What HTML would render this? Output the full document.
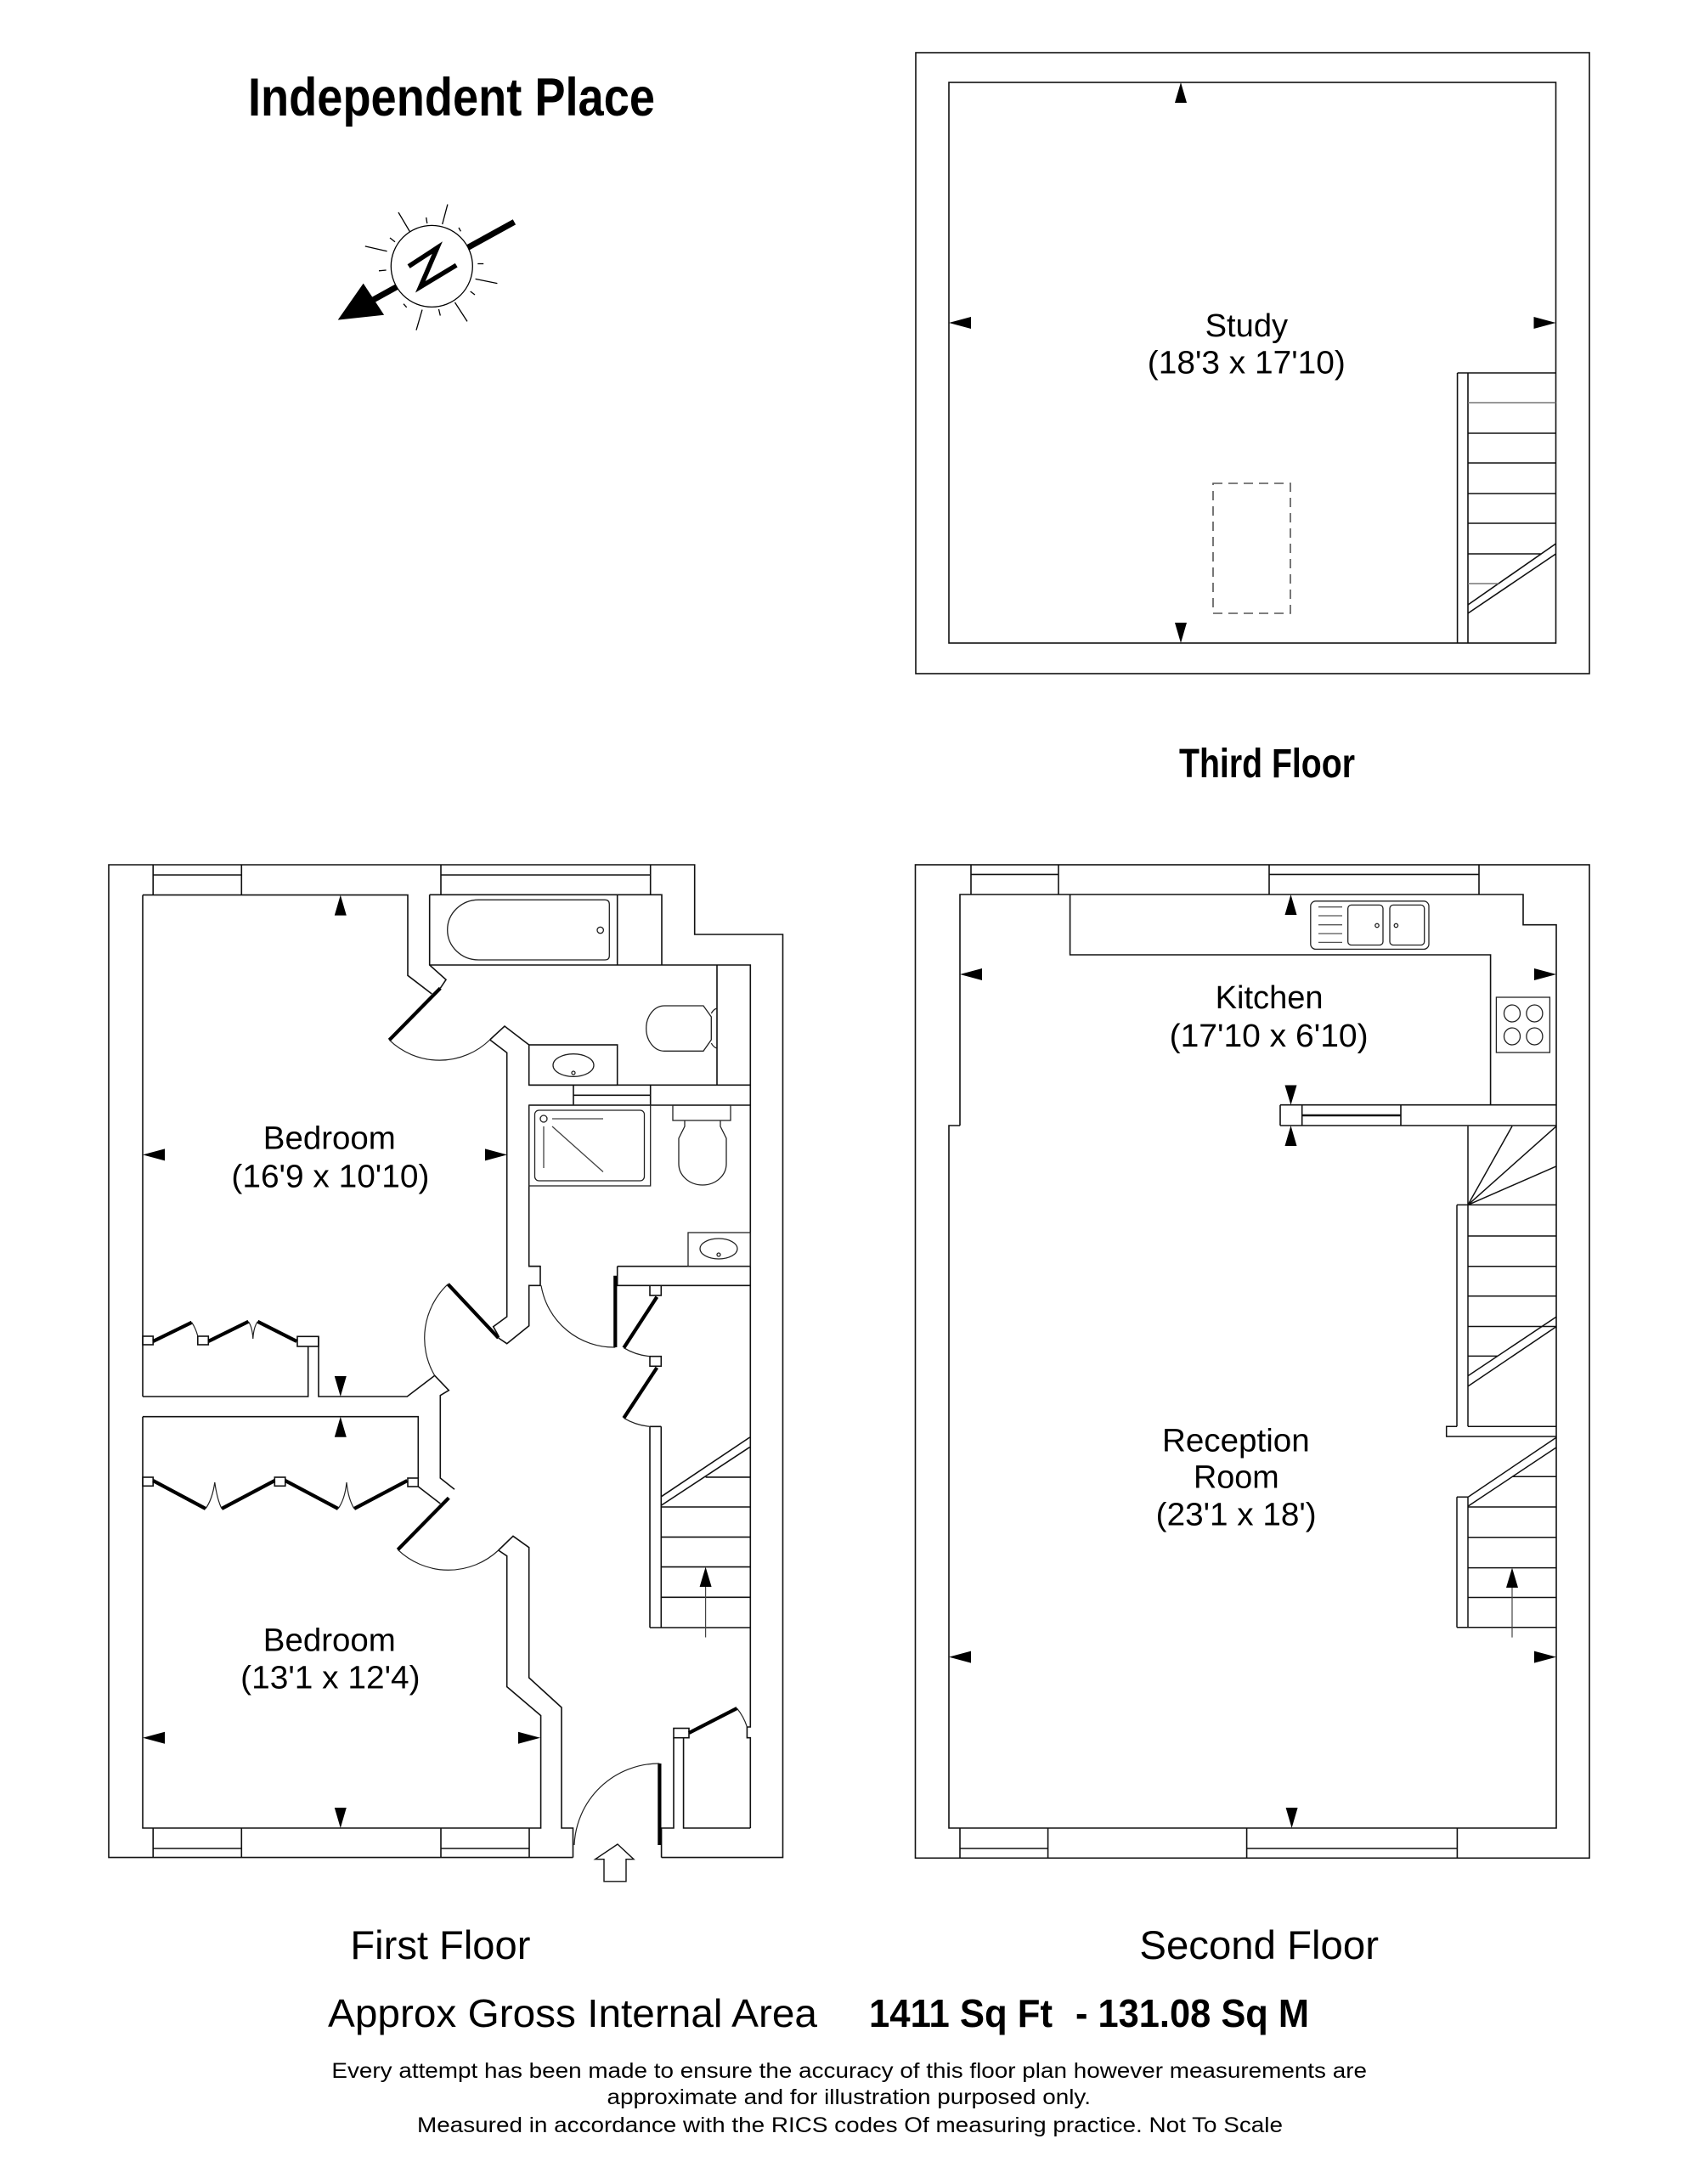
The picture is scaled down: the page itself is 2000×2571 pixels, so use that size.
<!DOCTYPE html>
<html>
<head>
<meta charset="utf-8">
<style>
  html,body{margin:0;padding:0;background:#fff;}
  svg{display:block;}
  text{font-family:"Liberation Sans", Arial, sans-serif; fill:#000;}
</style>
</head>
<body>
<svg width="2000" height="2571" viewBox="0 0 2000 2571" xmlns="http://www.w3.org/2000/svg">
<rect x="0" y="0" width="2000" height="2571" fill="#fff"/>

<!-- ============ TITLE ============ -->
<text x="292" y="136" font-size="63" font-weight="bold" textLength="479" lengthAdjust="spacingAndGlyphs">Independent Place</text>

<!-- ============ COMPASS ============ -->
<g transform="translate(0,-6)">
<g stroke="#000" fill="none">
  <line x1="605.4" y1="267.3" x2="432" y2="363" stroke-width="7"/>
  <g stroke-width="1.3">
    <line x1="469" y1="256" x2="483.8" y2="281"/>
    <line x1="526.9" y1="246.6" x2="520.7" y2="270"/>
    <line x1="429.8" y1="295.9" x2="455.6" y2="301.7"/>
    <line x1="559.6" y1="334.4" x2="585.4" y2="339.6"/>
    <line x1="535.5" y1="362" x2="550" y2="384.4"/>
    <line x1="497" y1="370.6" x2="490" y2="394.7"/>
    <line x1="501.7" y1="262" x2="502.8" y2="269"/>
    <line x1="540" y1="274" x2="542.4" y2="278.3"/>
    <line x1="459" y1="286" x2="465" y2="290.7"/>
    <line x1="446" y1="324.8" x2="454.6" y2="324"/>
    <line x1="562.3" y1="316.5" x2="569.2" y2="316.5"/>
    <line x1="553.7" y1="349" x2="559" y2="353"/>
    <line x1="516.5" y1="370" x2="518.3" y2="377.5"/>
    <line x1="475" y1="363.7" x2="478.7" y2="367.8"/>
  </g>
  <circle cx="508.3" cy="319.4" r="48" fill="#fff" stroke-width="1.3"/>
  <path d="M481.1 319.6 L514.8 297.6 L494.9 343.7 L537.2 318.2" stroke-width="5.5" stroke-linejoin="miter"/>
</g>
<polygon points="397.7,382.6 427.7,339.6 452.1,376.8" fill="#000"/>
</g>

<!-- ============ THIRD FLOOR ============ -->
<g fill="none" stroke="#111" stroke-width="1.6">
  <rect x="1078" y="62" width="793" height="731"/>
  <rect x="1117" y="97" width="714.5" height="660"/>
  <path d="M1715.6 439 V757 M1728 439 V757 M1715.6 439 H1831.5"/>
  <path d="M1728 510 H1831.5 M1728 545 H1831.5 M1728 581 H1831.5 M1728 616 H1831.5 M1728 652 H1814 M1728 712 L1831.5 640 M1728 722 L1831.5 652"/>
  <path stroke="#777" d="M1728 474 H1831.5 M1728 687 H1764"/>
  <rect x="1428" y="569" width="91" height="153" stroke="#555" stroke-dasharray="11 7"/>
</g>
<g fill="#000">
  <polygon points="1390,97 1383,121 1397,121"/>
  <polygon points="1390,757 1383,733 1397,733"/>
  <polygon points="1117,380 1143,373 1143,387"/>
  <polygon points="1831.5,380 1805.5,373 1805.5,387"/>
</g>
<text x="1418.6" y="396" font-size="38" textLength="97.5" lengthAdjust="spacingAndGlyphs">Study</text>
<text x="1350.8" y="439.5" font-size="38" textLength="233" lengthAdjust="spacingAndGlyphs">(18'3 x 17'10)</text>

<text x="1388" y="915" font-size="48" font-weight="bold" textLength="207" lengthAdjust="spacingAndGlyphs">Third Floor</text>

<!-- ============ SECOND FLOOR ============ -->
<g fill="none" stroke="#111" stroke-width="1.6">
  <rect x="1077.5" y="1018" width="793.5" height="1169.3"/>
  <path d="M1130 1325 V1053 H1793 V1088.7 H1832 V2152 H1117 V1325 H1130"/>
  <path d="M1143 1018 V1053 M1246 1018 V1053 M1143 1029.4 H1246 M1494 1018 V1053 M1741 1018 V1053 M1494 1029.4 H1741"/>
  <path d="M1130 2152 V2187 M1233.6 2152 V2187 M1130 2176 H1233.6 M1467.6 2152 V2187 M1715.4 2152 V2187 M1467.6 2176 H1715.4"/>
  <path d="M1259.6 1053 V1124 H1754.6 V1300.7"/>
  <path d="M1507 1300.7 H1832 M1507 1325 H1832 M1507 1300.7 V1325 M1532.7 1300.7 V1325 M1649 1300.7 V1325"/>
  <path d="M1532.7 1313 H1649" stroke-width="2.6"/>
</g>
<g fill="none" stroke="#222" stroke-width="1.3">
  <rect x="1542.8" y="1060.8" width="139.2" height="56.6" rx="6"/>
  <path d="M1552 1067.7 H1580 M1552 1078 H1580 M1552 1088.7 H1580 M1552 1099 H1580 M1552 1109.4 H1580" stroke="#555"/>
  <rect x="1586.7" y="1065.4" width="41.3" height="47.1" rx="4"/>
  <rect x="1636" y="1065.4" width="40.7" height="47.1" rx="4"/>
  <circle cx="1621" cy="1089.5" r="2.2"/>
  <circle cx="1643.4" cy="1089.5" r="2.2"/>
  <rect x="1761.4" y="1174" width="63" height="65"/>
  <ellipse cx="1780" cy="1193" rx="9.5" ry="10"/>
  <ellipse cx="1806.4" cy="1193" rx="9.5" ry="10"/>
  <ellipse cx="1780" cy="1220" rx="9.5" ry="10"/>
  <ellipse cx="1806.4" cy="1220" rx="9.5" ry="10"/>
</g>
<g fill="none" stroke="#111" stroke-width="1.5">
  <path d="M1728 1325.8 V1679.3 M1715 1418.4 V1679.3 M1715 1418.4 H1832"/>
  <path d="M1728 1418.4 L1780 1325.8 M1728 1418.4 L1832 1325.8 M1728 1418.4 L1832 1372.9"/>
  <path d="M1728 1455 H1832 M1728 1490.8 H1832 M1728 1525.7 H1832 M1728 1561.5 H1832 M1728 1596.4 H1763"/>
  <path d="M1728.3 1619.5 L1832.3 1550 M1728.3 1631.8 L1832.3 1561.5"/>
  <path d="M1728 1679.3 H1832 M1715 1679.3 H1702.7 V1691 H1832"/>
  <path d="M1728.3 1762.2 L1832.3 1692 M1728.3 1773 L1832.3 1703.7"/>
  <path d="M1780 1738.2 H1832 M1728 1774 H1832 M1728 1809.8 H1832 M1728 1845.6 H1832 M1728 1880.5 H1832 M1715 1915.8 H1832"/>
  <path d="M1715 1762.2 V1915.8 M1728 1762.2 V1915.8 M1715 1762.2 H1728"/>
  <path d="M1780 1927.6 V1866" stroke="#444" stroke-width="1.2"/>
</g>
<g fill="#000">
  <polygon points="1780,1845.6 1773,1869 1787,1869"/>
  <polygon points="1519.5,1053 1512.5,1077 1526.5,1077"/>
  <polygon points="1130,1147 1156,1140 1156,1154"/>
  <polygon points="1832,1147 1806,1140 1806,1154"/>
  <polygon points="1519.5,1300.7 1512.5,1277.5 1526.5,1277.5"/>
  <polygon points="1519.5,1325 1512.5,1349 1526.5,1349"/>
  <polygon points="1117,1950.6 1143,1943.6 1143,1957.6"/>
  <polygon points="1832,1950.6 1806,1943.6 1806,1957.6"/>
  <polygon points="1520.6,2152 1513.6,2128 1527.6,2128"/>
</g>
<text x="1430.6" y="1187" font-size="38" textLength="127" lengthAdjust="spacingAndGlyphs">Kitchen</text>
<text x="1376.6" y="1232" font-size="38" textLength="234" lengthAdjust="spacingAndGlyphs">(17'10 x 6'10)</text>
<text x="1368" y="1708.6" font-size="38" textLength="173.7" lengthAdjust="spacingAndGlyphs">Reception</text>
<text x="1405" y="1751.4" font-size="38" textLength="100.7" lengthAdjust="spacingAndGlyphs">Room</text>
<text x="1360.7" y="1795.5" font-size="38" textLength="189" lengthAdjust="spacingAndGlyphs">(23'1 x 18')</text>

<!-- ============ FIRST FLOOR ============ -->
<g fill="none" stroke="#111" stroke-width="1.6">
  <path d="M674.5 2186.6 H128 V1018 H817.7 V1100 H921.5 V2186.6 H778.6"/>
  <path d="M180.2 1018 V1053.6 M284.3 1018 V1053.6 M180.2 1030 H284.3 M519 1018 V1053.6 M765.7 1018 V1053.6 M519 1030 H765.7"/>
  <path d="M180.2 2152 V2186.6 M284.3 2152 V2186.6 M180.2 2176 H284.3 M519 2152 V2186.6 M623 2152 V2186.6 M519 2176 H623"/>

  <path d="M168 1053.6 H480 V1148.3 L508.3 1170"/>
  <path d="M168 1053.6 V1644"/>
  <path d="M168 1644 H362.7 V1585 M375 1573.3 V1644 H479.3 L511.7 1619.3 L528.3 1636.7 L518.3 1642.7 V1740 L535 1753.3"/>
  <rect x="168" y="1573" width="12.2" height="10"/>
  <rect x="232.8" y="1573" width="12.5" height="10"/>
  <rect x="350" y="1573.3" width="25" height="11.7"/>
  <path d="M576.7 1224 L596.7 1239.3 V1550 L580.7 1561.7 L587 1573"/>
  <path d="M586.7 1575 L596.7 1581.7 L622.7 1560.7 V1513.3 H636 V1490.7 H622.7 V1301"/>

  <path d="M505.7 1053.3 H779 V1136 M505.7 1053.3 V1136 L525 1153.3 L518.3 1163.3"/>
  <path d="M726.7 1053.3 V1136"/>
  <path d="M505.7 1136 H883.3 V2033 H879.4 V2045.7 H883.3 V2152"/>
  <path d="M844 1136 V1277.3"/>
  <path d="M576.7 1224 L594 1208 L622.7 1230"/>
  <path d="M622.7 1277.3 H883.3"/>
  <rect x="622.7" y="1230" width="104" height="47.3"/>
  <path d="M675 1277.3 V1301 M765.7 1277.3 V1301 M675 1289.3 H765.7"/>
  <path d="M622.7 1301 H883.3"/>
  <path d="M622.7 1490.7 H636 M726.7 1490.7 H883.3"/>
  <path d="M726.7 1490.7 V1513.3 H765 M778.3 1513.3 H883.3"/>
  <rect x="765" y="1513.3" width="13.3" height="11.7"/>
  <rect x="765" y="1596.7" width="13.3" height="11.6"/>
  <path d="M765 1679.3 V1916 M778.3 1679.3 V1916 M765 1679.3 H778.3"/>

  <path d="M778.6 1761.7 L882.6 1692 M778.6 1772 L882.6 1703.6"/>
  <path d="M830.6 1738.9 H882.6 M778.6 1774 H882.6 M778.6 1809.4 H882.6 M778.6 1844.6 H882.6 M778.6 1880.3 H882.6 M765 1916 H882.6"/>

  <path d="M168 1667.7 H492.3 V1740"/>
  <path d="M168 1667.7 V2152 H636.6 V2019.6 L596.7 1985.6 V1831.7 L586.7 1825"/>
  <rect x="168" y="1739" width="12.2" height="10.3"/>
  <rect x="323.3" y="1739" width="12.5" height="10.3"/>
  <rect x="480" y="1740" width="12.3" height="10"/>
  <path d="M492.3 1750 L518.3 1770"/>
  <path d="M586.7 1825 L604 1808.3 L622.7 1821.7 V1975 L661 2010 V2152 H674.5 V2186.6"/>
  <path d="M778.6 2186.6 V2152 H793 V2045.7 M804.6 2045.7 V2152 H883.3"/>
  <rect x="793" y="2034.5" width="18" height="11.2"/>
</g>

<g fill="none" stroke="#222" stroke-width="1.3">
  <path d="M563.3 1059.3 H712 Q717.3 1059.3 717.3 1064.5 V1125 Q717.3 1130 712 1130 H563.3 A36.6 35.35 0 0 1 563.3 1059.3 Z"/>
  <circle cx="706.7" cy="1095" r="3.7"/>
  <path d="M837.3 1197 L828 1184 H782 A21.3 26.65 0 0 0 782 1237.3 H828 L837.3 1224 Z"/>
  <path d="M837.3 1193 Q840 1188 844 1187 M837.3 1228 Q840 1233 844 1234"/>
  <ellipse cx="675" cy="1254" rx="24" ry="13.3"/>
  <circle cx="675" cy="1263" r="2"/>
  <rect x="622.7" y="1301" width="143" height="95"/>
  <rect x="629.5" y="1307" width="129" height="83" rx="5"/>
  <circle cx="640" cy="1317" r="4"/>
  <path d="M650 1317 H710 M650 1326 L710 1379.5 M640 1326 V1375" stroke="#444"/>
  <rect x="792" y="1301" width="68" height="18"/>
  <path d="M806 1319 V1326 L799 1340 V1370 A28 25 0 0 0 855 1370 V1340 L848 1326 V1319"/>
  <rect x="810" y="1451" width="73.3" height="39.7"/>
  <ellipse cx="846" cy="1470" rx="22" ry="12"/>
  <circle cx="846" cy="1477" r="2"/>
</g>

<g fill="none" stroke="#000" stroke-width="4.2">
  <path d="M518.3 1163.3 L458.3 1224.3"/>
  <path d="M586.7 1575 L527.3 1511.7"/>
  <path d="M528.3 1763.3 L468.3 1824.3"/>
  <path d="M724.3 1501.7 V1586"/>
  <path d="M773.3 1526.7 L734.3 1586.7"/>
  <path d="M773.3 1610 L734.3 1669.3"/>
  <path d="M776.4 2076 V2172"/>
  <path d="M811 2040 L867.5 2011"/>
  <path d="M180.2 1579 L225.7 1556.7 M245.3 1579 L292.4 1555.8 M303.3 1555.8 L349.3 1579"/>
  <path d="M180.2 1743 L242 1776 M261 1776 L323.3 1743 M335.8 1743 L398 1776 M417 1776 L479.4 1743"/>
</g>
<g fill="none" stroke="#222" stroke-width="1.2">
  <path d="M458.3 1224.3 A85 85 0 0 0 576.7 1224"/>
  <path d="M527.3 1511.7 A87 87 0 0 0 511.7 1619.3"/>
  <path d="M468.3 1824.3 A86 86 0 0 0 586.7 1825"/>
  <path d="M724.3 1586 A87 87 0 0 1 637 1513.3"/>
  <path d="M734.3 1586.7 A71 71 0 0 0 765 1596.7"/>
  <path d="M734.3 1669.3 A71 71 0 0 0 765 1679.3"/>
  <path d="M776.4 2076 A100 100 0 0 0 676 2172"/>
  <path d="M867.5 2011 A66 66 0 0 1 879.4 2033"/>
  <path d="M225.7 1556.7 A52 52 0 0 1 232.8 1573"/>
  <path d="M292.4 1555.8 Q297 1562 297.8 1576 Q298.6 1562 303.3 1555.8"/>
  <path d="M242 1776 Q250 1765 252.8 1745 Q255.6 1765 261 1776"/>
  <path d="M398 1776 Q406 1765 408 1745 Q410 1765 417 1776"/>
  <path d="M830.6 1927.5 V1866" stroke="#444"/>
</g>
<g fill="#000">
  <polygon points="830.6,1844.6 823.6,1868 837.6,1868"/>
  <polygon points="400.8,1053.6 393.8,1077.6 407.8,1077.6"/>
  <polygon points="400.8,1644 393.8,1620 407.8,1620"/>
  <polygon points="168,1359.4 194,1352.4 194,1366.4"/>
  <polygon points="597,1359.4 571,1352.4 571,1366.4"/>
  <polygon points="400.8,1667.7 393.8,1691.7 407.8,1691.7"/>
  <polygon points="400.8,2152 393.8,2128 407.8,2128"/>
  <polygon points="168,2045.7 194,2038.7 194,2052.7"/>
  <polygon points="636,2045.7 610,2038.7 610,2052.7"/>
</g>
<polygon points="727,2171 700.7,2188.7 711,2188.7 711,2214.8 737,2214.8 737,2188.7 746,2188.7" fill="#fff" stroke="#111" stroke-width="1.4"/>

<text x="309.8" y="1352.7" font-size="38" textLength="156" lengthAdjust="spacingAndGlyphs">Bedroom</text>
<text x="272.4" y="1397.3" font-size="38" textLength="233" lengthAdjust="spacingAndGlyphs">(16'9 x 10'10)</text>
<text x="309.8" y="1943.3" font-size="38" textLength="156" lengthAdjust="spacingAndGlyphs">Bedroom</text>
<text x="283.2" y="1987.6" font-size="38" textLength="211.4" lengthAdjust="spacingAndGlyphs">(13'1 x 12'4)</text>

<!-- ============ BOTTOM TEXT ============ -->
<text x="412.4" y="2306" font-size="47" textLength="212" lengthAdjust="spacingAndGlyphs">First Floor</text>
<text x="1341.4" y="2306" font-size="47" textLength="281.6" lengthAdjust="spacingAndGlyphs">Second Floor</text>
<text x="386" y="2386" font-size="46" textLength="576" lengthAdjust="spacingAndGlyphs">Approx Gross Internal Area</text>
<text x="1023" y="2386" font-size="46" font-weight="bold" textLength="216" lengthAdjust="spacingAndGlyphs">1411 Sq Ft</text>
<text x="1266" y="2386" font-size="46" font-weight="bold" textLength="275" lengthAdjust="spacingAndGlyphs">- 131.08 Sq M</text>
<text x="390.4" y="2446" font-size="25" textLength="1218.6" lengthAdjust="spacingAndGlyphs">Every attempt has been made to ensure the accuracy of this floor plan however measurements are</text>
<text x="714.5" y="2477" font-size="25" textLength="569.5" lengthAdjust="spacingAndGlyphs">approximate and for illustration purposed only.</text>
<text x="491" y="2510" font-size="25" textLength="1019" lengthAdjust="spacingAndGlyphs">Measured in accordance with the RICS codes Of measuring practice. Not To Scale</text>
</svg>
</body>
</html>
